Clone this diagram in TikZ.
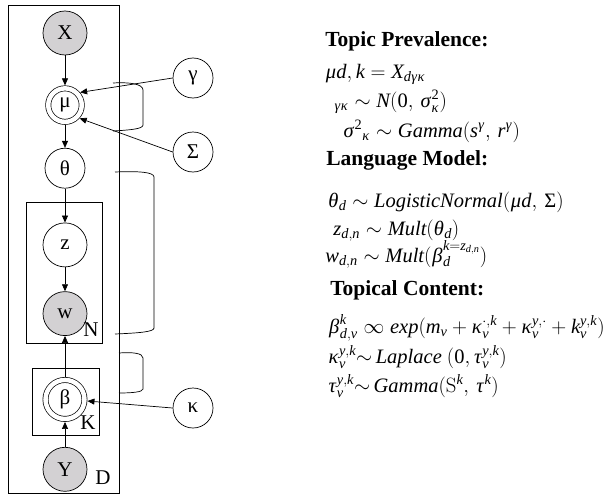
\documentclass[tikz,border=0pt]{standalone}
\usepackage{mathspec}
\setmainfont{Liberation Serif}
\setmathsfont(Digits,Latin,Greek){Liberation Serif}
\usetikzlibrary{positioning,arrows.meta}
\definecolor{obsgray}{RGB}{211,209,211}

\begin{document}
\begin{tikzpicture}[
x=1pt, y=-1pt,
var/.style={
	circle, draw, minimum size=40pt,
	inner sep=0pt, font=\fontsize{21}{24}\selectfont
},
obs/.style={var, fill=obsgray, minimum size=44pt},
det/.style={var, double, double distance=4.5pt, outer sep=3pt, minimum size=33.5pt},
lbl/.style={inner sep=0pt, font=\fontsize{21}{24}\selectfont},
eq/.style={anchor=base west, inner sep=0pt, font=\fontsize{20.5}{23}\selectfont},
head/.style={eq, font=\fontsize{21.5}{24}\selectfont\bfseries},
>={Triangle[length=7pt,width=6pt]}, line width=0.7pt
]
\useasboundingbox (0,0) rectangle (609,495);
% main column
\node[obs] (X) at (65,33) {X};
\node[det, below = 30pt of X] (mu) {μ};
\node[var, below = 23pt of mu] (theta) {θ};
\node[var, minimum size=44pt, below = 34pt of theta] (z) {z};
\node[obs, below = 24pt of z] (w) {w};
\node[det, minimum size=39pt, below = 41pt of w] (beta) {β};
\node[obs, below = 25pt of beta] (Y) {Y};
% hyperparameters
\node[var] (gamma) at (193,78) {γ};
\node[var] (Sigma) at (193,152) {Σ};
\node[var] (kappa) at (193,408) {κ};
% plates
\draw (8,5) rectangle (119,493);
\draw (26,202) rectangle (102,343);
\draw (32,368) rectangle (99,435);
\node[lbl] (N) at (91,330) {N};
\node[lbl] (K) at (88,423) {K};
\node[lbl] (D) at (103,478) {D};
% edges
\draw[->] (X) -- (mu);
\draw[->] (gamma.west) -- (mu.40);
\draw[->] (Sigma.west) -- (mu.-42);
\draw[->] (mu) -- (theta);
\draw[->] (theta) -- (z);
\draw[->] (z) -- (w);
\draw[->] (beta) -- (w);
\draw[->] (Y) -- (beta);
\draw[->] (kappa.west) -- (beta.-4);
% brackets
\draw (113,83) .. controls (130,82) and (143,84) .. (143,90) -- (143,125)
	.. controls (143,129) and (130,130) .. (113,131);
\draw (115,172) .. controls (138,171) and (154,172) .. (154,177) -- (154,328)
	.. controls (154,332) and (138,333) .. (115,334);
\draw (119,353) .. controls (132,352) and (143,353) .. (143,358) -- (143,389)
	.. controls (143,392) and (132,393) .. (119,393);
% model equations
\node[head] (t1) at (325,46) {Topic Prevalence:};
\node[eq] (e1) at (325,78) {$\mu d,k = X_{d\gamma\kappa}$};
\node[eq] (e2) at (334,107) {${}_{\gamma\kappa} \sim N(0,\, \sigma_{\kappa}^{2})$};
\node[eq] (e3) at (343,137) {$\sigma^{2}{}_{\kappa} \sim Gamma(s^{\gamma},\, r^{\gamma})$};
\node[head] (t2) at (326,165) {Language Model:};
\node[eq] (e4) at (328,207) {$\theta_d \sim LogisticNormal(\mu d,\, \Sigma)$};
\node[eq] (e5) at (333,235) {$z_{d,n} \sim Mult(\theta_d)$};
\node[eq] (e6) at (325,262) {$w_{d,n} \sim Mult(\beta_d^{k=z_{d,n}})$};
\node[head] (t3) at (330,295) {Topical Content:};
\node[eq] (e7) at (328,333) {$\beta^{k}_{d,v} \mathrel{\infty} exp(m_v + \kappa_v^{\cdot,k} + \kappa_v^{y,\cdot} + k_v^{y,k})$};
\node[eq] (e8) at (328,363) {$\kappa_v^{y,k}{\sim}\, Laplace\ (0,\tau_v^{y,k})$};
\node[eq] (e9) at (328,392) {$\tau_v^{y,k}{\sim}\, Gamma(\mathrm{S}^k,\, \tau^k)$};
\end{tikzpicture}
\end{document}
